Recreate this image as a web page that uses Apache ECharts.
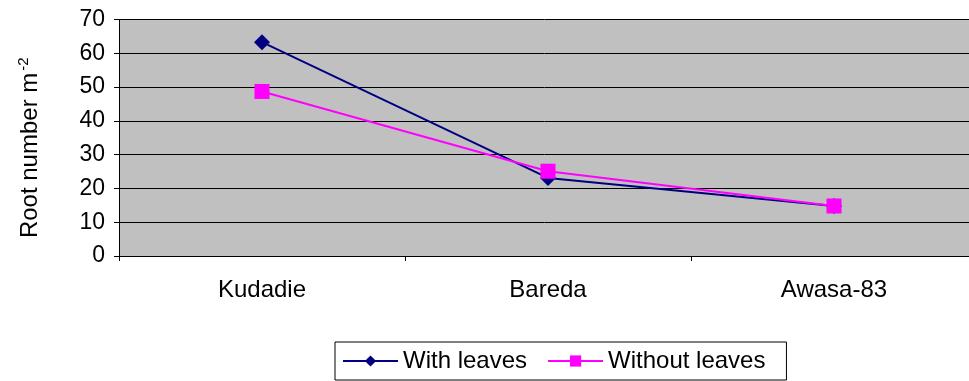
<!DOCTYPE html>
<html>
<head>
<meta charset="utf-8">
<script src="https://cdn.jsdelivr.net/npm/echarts@6/dist/echarts.min.js"></script>
<style>
  html, body { margin: 0; padding: 0; background: #fff; }
  #chart { width: 969px; height: 381px; }
</style>
</head>
<body>
<div id="chart"></div>
<script>
// Root number per square metre for three varieties
const categories = ['Kudadie', 'Bareda', 'Awasa-83'];
const withLeaves = [63.3, 23.1, 14.8];
const withoutLeaves = [48.7, 25.1, 14.8];
const yTicks = [0, 10, 20, 30, 40, 50, 60, 70];

const chart = echarts.init(document.getElementById('chart'));
const font = 'Liberation Sans, Arial, sans-serif';

chart.setOption({
  animation: false,
  backgroundColor: '#ffffff',
  grid: {
    left: 119, top: 19.5, right: -8, height: 236.5,
    outerBoundsMode: 'none',
    containLabel: false,
    show: true, backgroundColor: '#C0C0C0', borderWidth: 0
  },
  xAxis: {
    type: 'category',
    data: categories,
    boundaryGap: true,
    axisLine: { lineStyle: { color: '#000', width: 1 } },
    axisTick: { show: true, length: 5, lineStyle: { color: '#000' } },
    axisLabel: { color: '#000', fontSize: 24, fontFamily: font, margin: 22 }
  },
  yAxis: {
    type: 'value',
    min: yTicks[0], max: yTicks[yTicks.length - 1], interval: 10,
    name: 'Root number m{sup|-2}',
    nameLocation: 'middle',
    nameGap: 74,
    nameRotate: 90,
    nameTextStyle: {
      color: '#000', fontSize: 24, fontFamily: font,
      padding: [0, 20, 0, 0],
      rich: { sup: { fontSize: 15, fontFamily: font, color: '#000', verticalAlign: 'top', padding: [0, 0, 14, 2] } }
    },
    axisLine: { show: true, lineStyle: { color: '#000', width: 1 } },
    axisTick: { show: true, length: 5, lineStyle: { color: '#000' } },
    axisLabel: { color: '#000', fontSize: 23, fontFamily: font, margin: 14 },
    splitLine: { show: true, lineStyle: { color: '#000', width: 1 } }
  },
  legend: {
    left: 335, top: 342,
    padding: [7, 21, 7, 7],
    itemGap: 20,
    itemWidth: 55, itemHeight: 14,
    borderColor: '#000', borderWidth: 1,
    backgroundColor: '#fff',
    textStyle: { color: '#000', fontSize: 24, fontFamily: font },
    data: ['With leaves', 'Without leaves']
  },
  series: [
    {
      name: 'With leaves', type: 'line', data: withLeaves,
      symbol: 'diamond', symbolSize: 16,
      lineStyle: { color: '#000080', width: 2 },
      itemStyle: { color: '#000080' }
    },
    {
      name: 'Without leaves', type: 'line', data: withoutLeaves,
      symbol: 'rect', symbolSize: 15,
      lineStyle: { color: '#FF00FF', width: 2 },
      itemStyle: { color: '#FF00FF' }
    }
  ]
});
</script>
</body>
</html>
